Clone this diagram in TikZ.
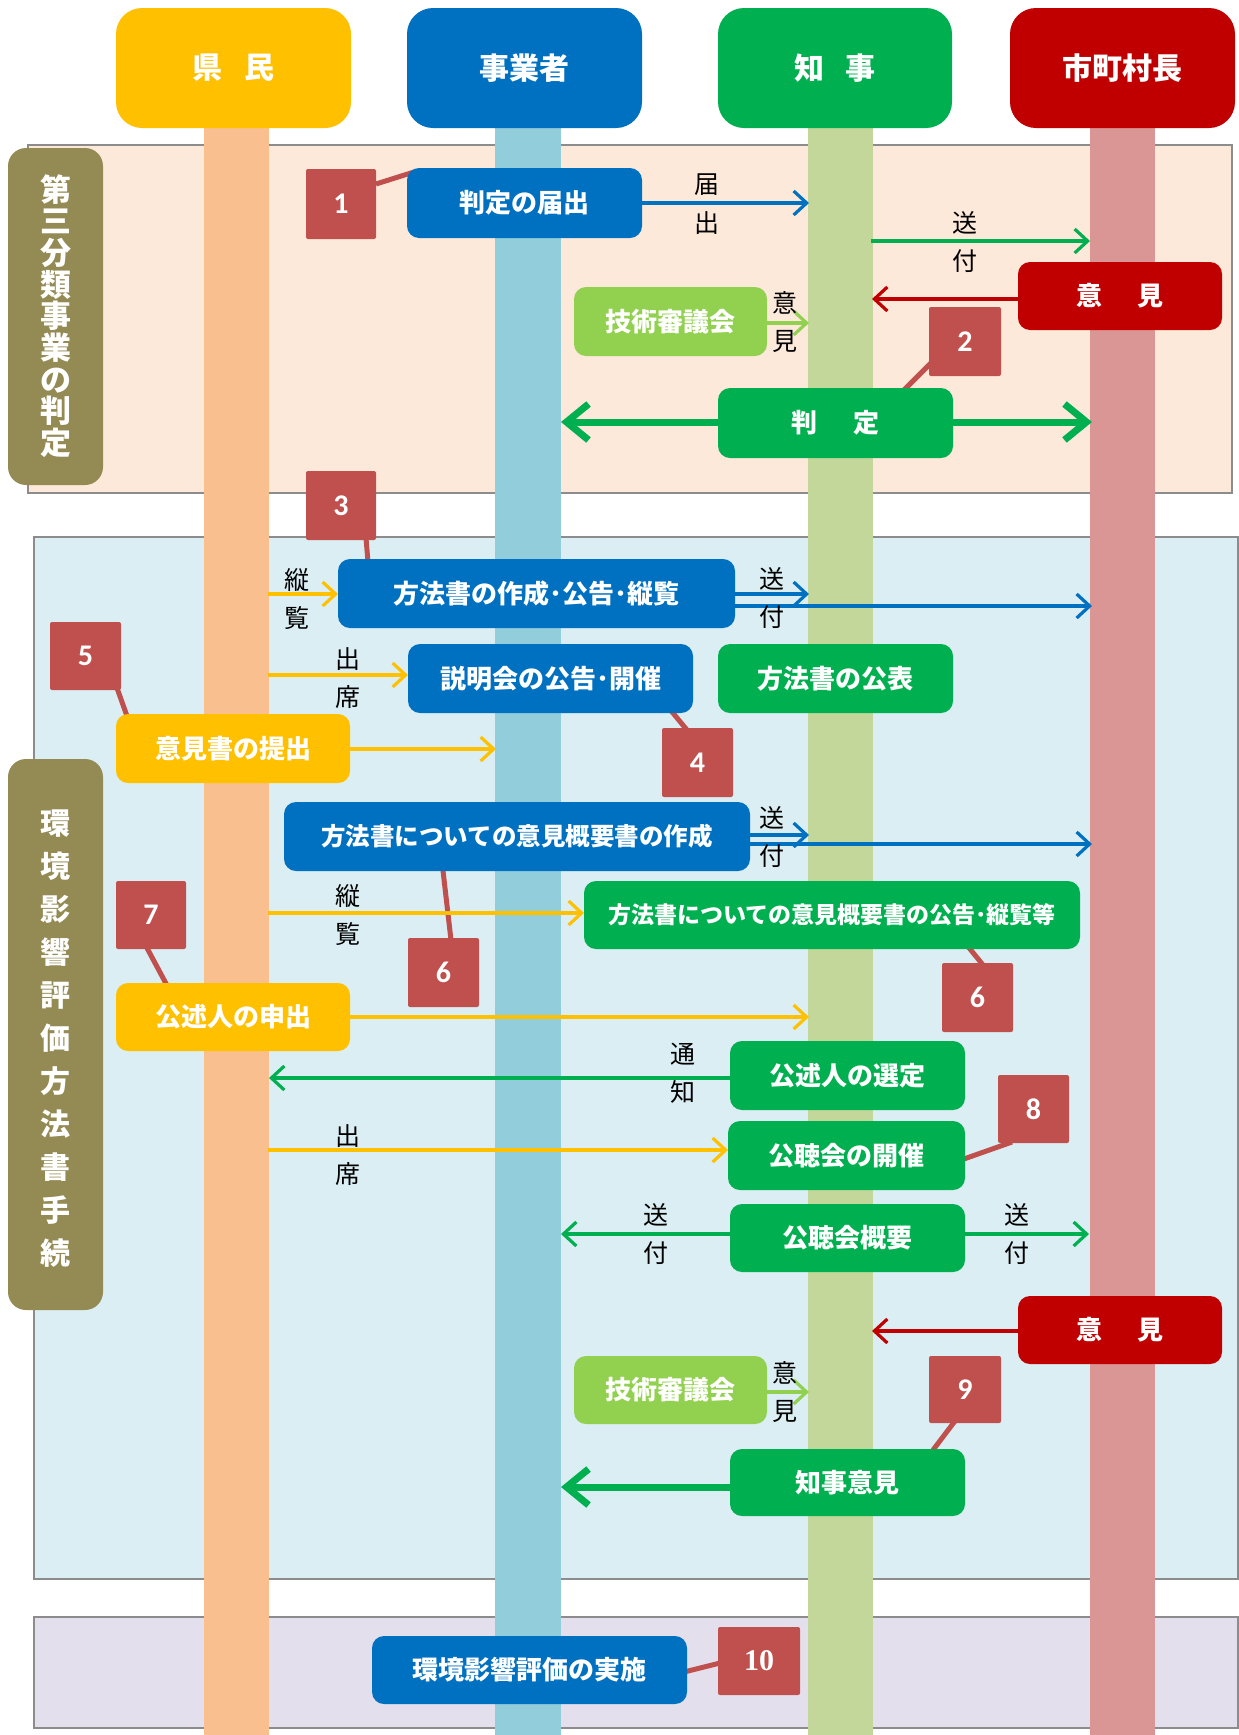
\documentclass[tikz,border=0pt]{standalone}
\usepackage{fontspec}
\setmainfont{Noto Sans CJK JP}
\newfontfamily\numfont{Carlito}
\newfontfamily\numserif{Liberation Serif}
\usetikzlibrary{arrows.meta}
\definecolor{cY}{HTML}{FFC000}
\definecolor{cB}{HTML}{0070C0}
\definecolor{cG}{HTML}{00B050}
\definecolor{cR}{HTML}{C00000}
\definecolor{cLG}{HTML}{92D050}
\definecolor{cOl}{HTML}{948A54}
\definecolor{cNum}{HTML}{C0504D}
\definecolor{lOr}{HTML}{F9BF8F}
\definecolor{lBl}{HTML}{92CDDC}
\definecolor{lGr}{HTML}{C4D79B}
\definecolor{lPk}{HTML}{DA9694}
\definecolor{pA}{HTML}{FDE9D9}
\definecolor{pB}{HTML}{DAEEF3}
\definecolor{pC}{HTML}{E4DFEC}
\definecolor{pBorder}{HTML}{8C8C8C}
\newcommand\mkbox[7]{\node[#2, minimum width={(#5-#3)*1pt}, minimum height={(#6-#4)*1pt}] (#1) at ({(#3+#5)/2},{(#4+#6)/2}) {#7};}
\begin{document}
\begin{tikzpicture}[x=1pt,y=-1pt,
  bx/.style={rounded corners=12pt, inner sep=0pt, outer sep=0pt, text=white, font=\bfseries\fontsize{26}{30}\selectfont},
  hd/.style={bx, rounded corners=26pt, font=\bfseries\fontsize{30}{34}\selectfont},
  numbox/.style={fill=cNum, rounded corners=2pt, inner sep=0pt, outer sep=0pt, text=white, font=\numfont\bfseries\fontsize{30}{32}\selectfont},
  side/.style={fill=cOl, rounded corners=18pt, inner sep=0pt, outer sep=0pt},
  sidetext/.style={text=white, align=center, inner sep=0pt},
  lab/.style={align=center, inner sep=0pt, font=\fontsize{25}{38.5}\selectfont},
  arr/.style={line width=3.2pt, -{Straight Barb[length=13pt,width=24pt]}},
  thk/.style={line width=7pt, line cap=round, -{Straight Barb[length=22pt,width=36pt]}},
  call/.style={draw=cNum, line width=5pt},
  panel/.style={draw=pBorder, line width=1.2pt}
]
\useasboundingbox (0,0) rectangle (1239,1735);
% panels
\filldraw[panel, fill=pA] (28,145) rectangle (1232,493);
\filldraw[panel, fill=pB] (34,537) rectangle (1238,1579);
\filldraw[panel, fill=pC] (34,1617) rectangle (1238,1728);
% lifelines
\fill[lOr] (204,120) rectangle (269,1735);
\fill[lBl] (495,120) rectangle (561,1735);
\fill[lGr] (808,120) rectangle (873,1735);
\fill[lPk] (1090,120) rectangle (1155,1735);
% headers
\mkbox{hA}{hd, fill=cY}{116}{8}{351}{128}{県\hspace{22pt}民}
\mkbox{hB}{hd, fill=cB}{407}{8}{642}{128}{事業者}
\mkbox{hC}{hd, fill=cG}{718}{8}{952}{128}{知\hspace{22pt}事}
\mkbox{hD}{hd, fill=cR}{1010}{8}{1235}{128}{市町村長}
% side labels
\mkbox{sA}{side}{8}{148}{103}{485}{}
\node[sidetext, font=\bfseries\fontsize{31}{31.7}\selectfont] (sAt) at (55.5,316) {第\\三\\分\\類\\事\\業\\の\\判\\定};
\mkbox{sB}{side}{8}{759}{103}{1310}{}
\node[sidetext, font=\bfseries\fontsize{30}{43}\selectfont] (sBt) at (55.5,1039) {環\\境\\影\\響\\評\\価\\方\\法\\書\\手\\続};
% callout coordinates
\coordinate (c1a) at (376,184); \coordinate (c1b) at (414,172);
\coordinate (c2a) at (931,363); \coordinate (c2b) at (902,392);
\coordinate (c3a) at (366,538); \coordinate (c3b) at (368,562);
\coordinate (c4a) at (668,707); \coordinate (c4b) at (687,730);
\coordinate (c5a) at (117,688); \coordinate (c5b) at (127,716);
\coordinate (c6a) at (442,862); \coordinate (c6b) at (451,940);
\coordinate (c6c) at (966,944); \coordinate (c6d) at (983,965);
\coordinate (c7a) at (147,948); \coordinate (c7b) at (170,991);
\coordinate (c8a) at (961,1160); \coordinate (c8b) at (1012,1142);
\coordinate (c9a) at (955,1421); \coordinate (c9b) at (933,1450);
\coordinate (c10a) at (684,1672); \coordinate (c10b) at (720,1663);
\draw[call] (c1a) -- (c1b);
\draw[call] (c2a) -- (c2b);
\draw[call] (c3a) -- (c3b);
\draw[call] (c4a) -- (c4b);
\draw[call] (c5a) -- (c5b);
\draw[call] (c6a) -- (c6b);
\draw[call] (c6c) -- (c6d);
\draw[call] (c7a) -- (c7b);
\draw[call] (c8a) -- (c8b);
\draw[call] (c9a) -- (c9b);
\draw[call] (c10a) -- (c10b);
% boxes (section 1)
\mkbox{b1}{bx, fill=cB}{407}{168}{642}{238}{判定の届出}
\mkbox{g1}{bx, fill=cLG}{574}{287}{767}{356}{技術審議会}
\mkbox{r1}{bx, fill=cR}{1018}{262}{1222}{330}{意\hspace{35pt}見}
\mkbox{j1}{bx, fill=cG}{718}{388}{953}{458}{判\hspace{36pt}定}
% boxes (section 2)
\mkbox{b2}{bx, fill=cB}{338}{559}{735}{628}{方法書の作成･公告･縦覧}
\mkbox{b3}{bx, fill=cB}{408}{644}{693}{713}{説明会の公告･開催}
\mkbox{g2}{bx, fill=cG}{718}{644}{953}{713}{方法書の公表}
\mkbox{y1}{bx, fill=cY}{116}{714}{350}{783}{意見書の提出}
\mkbox{b4}{bx, fill=cB, font=\bfseries\fontsize{24.5}{28}\selectfont}{284}{802}{750}{871}{方法書についての意見概要書の作成}
\mkbox{g3}{bx, fill=cG, font=\bfseries\fontsize{23}{26}\selectfont}{584}{881}{1080}{949}{方法書についての意見概要書の公告･縦覧等}
\mkbox{y2}{bx, fill=cY}{116}{983}{350}{1051}{公述人の申出}
\mkbox{g4}{bx, fill=cG}{730}{1041}{965}{1110}{公述人の選定}
\mkbox{g5}{bx, fill=cG}{728}{1121}{965}{1190}{公聴会の開催}
\mkbox{g6}{bx, fill=cG}{730}{1204}{965}{1272}{公聴会概要}
\mkbox{r2}{bx, fill=cR}{1018}{1296}{1222}{1364}{意\hspace{35pt}見}
\mkbox{g7}{bx, fill=cLG}{574}{1356}{767}{1424}{技術審議会}
\mkbox{g8}{bx, fill=cG}{730}{1449}{965}{1516}{知事意見}
% section 3
\mkbox{b5}{bx, fill=cB}{372}{1636}{687}{1704}{環境影響評価の実施}
% number boxes
\mkbox{n1}{numbox}{306}{169}{376}{239}{1}
\mkbox{n2}{numbox}{929}{307}{1001}{376}{2}
\mkbox{n3}{numbox}{306}{471}{376}{540}{3}
\mkbox{n4}{numbox}{662}{728}{733}{797}{4}
\mkbox{n5}{numbox}{50}{622}{121}{690}{5}
\mkbox{n6a}{numbox}{408}{938}{479}{1007}{6}
\mkbox{n6b}{numbox}{942}{963}{1013}{1032}{6}
\mkbox{n7}{numbox}{116}{881}{186}{949}{7}
\mkbox{n8}{numbox}{998}{1075}{1069}{1143}{8}
\mkbox{n9}{numbox}{929}{1356}{1001}{1423}{9}
\mkbox{n10}{numbox, font=\numserif\bfseries\fontsize{30}{32}\selectfont}{718}{1627}{800}{1695}{10}
% arrows section 1
\coordinate (t1) at (809,203);
\draw[arr, cB] (b1.east) -- (t1);
\node[lab] (l1) at (707,204) {届\\出};
\coordinate (s2) at (871,241); \coordinate (t2) at (1090,241);
\draw[arr, cG] (s2) -- (t2);
\node[lab] (l2) at (965,242) {送\\付};
\coordinate (t3) at (872,299);
\draw[arr, cR] (r1.west |- t3) -- (t3);
\coordinate (t4) at (809,323);
\draw[arr, cLG] (g1.east |- t4) -- (t4);
\node[lab] (l3) at (785,322) {意\\見};
\coordinate (t5) at (561,422); \coordinate (t6) at (1092,422);
\draw[thk, cG] (j1.west |- t5) -- (t5);
\draw[thk, cG] (j1.east |- t6) -- (t6);
% arrows section 2
\coordinate (s7) at (268,594);
\draw[arr, cY] (s7) -- (b2.west |- s7);
\node[lab] (l4) at (297,599) {縦\\覧};
\coordinate (t8) at (809,594);
\draw[arr, cB] (b2.east |- t8) -- (t8);
\coordinate (t9) at (1092,606);
\draw[arr, cB] (b2.east |- t9) -- (t9);
\node[lab] (l5) at (772,598) {送\\付};
\coordinate (s10) at (268,675);
\draw[arr, cY] (s10) -- (b3.west |- s10);
\node[lab] (l6) at (348,678) {出\\席};
\coordinate (t11) at (496,749);
\draw[arr, cY] (y1.east |- t11) -- (t11);
\coordinate (t12) at (809,835);
\draw[arr, cB] (b4.east |- t12) -- (t12);
\coordinate (t13) at (1092,844);
\draw[arr, cB] (b4.east |- t13) -- (t13);
\node[lab] (l7) at (772,837) {送\\付};
\coordinate (s14) at (268,913);
\draw[arr, cY] (s14) -- (g3.west |- s14);
\node[lab] (l8) at (348,915) {縦\\覧};
\coordinate (t15) at (809,1017);
\draw[arr, cY] (y2.east |- t15) -- (t15);
\coordinate (t16) at (269,1078);
\draw[arr, cG] (g4.west |- t16) -- (t16);
\node[lab] (l9) at (683,1073) {通\\知};
\coordinate (s17) at (268,1150);
\draw[arr, cY] (s17) -- (g5.west |- s17);
\node[lab] (l10) at (348,1155) {出\\席};
\coordinate (t18) at (561,1234); \coordinate (t19) at (1089,1234);
\draw[arr, cG] (g6.west |- t18) -- (t18);
\draw[arr, cG] (g6.east |- t19) -- (t19);
\node[lab] (l11) at (656,1234) {送\\付};
\node[lab] (l12) at (1017,1234) {送\\付};
\coordinate (t20) at (872,1331);
\draw[arr, cR] (r2.west |- t20) -- (t20);
\coordinate (t21) at (809,1392);
\draw[arr, cLG] (g7.east |- t21) -- (t21);
\node[lab] (l13) at (785,1392) {意\\見};
\coordinate (t22) at (561,1487);
\draw[thk, cG] (g8.west |- t22) -- (t22);
\end{tikzpicture}
\end{document}
